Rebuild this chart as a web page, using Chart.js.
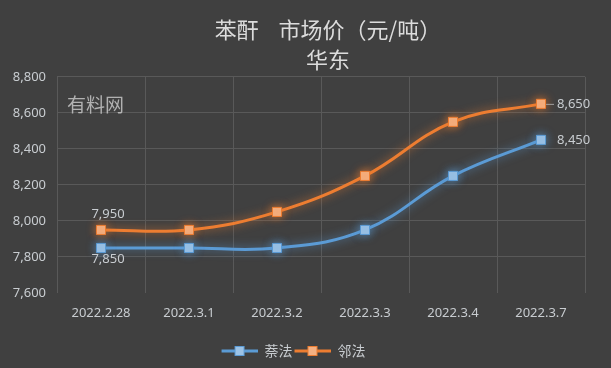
<!DOCTYPE html>
<html>
<head>
<meta charset="utf-8">
<script src="https://cdn.jsdelivr.net/npm/chart.js@4"></script>
<style>
html,body{margin:0;padding:0;background:#404040;}
#wrap{width:611px;height:368px;position:relative;}
</style>
</head>
<body>
<div id="wrap"><canvas id="c" width="611" height="368"></canvas></div>
<script>
const categories = ['2022.2.28', '2022.3.1', '2022.3.2', '2022.3.3', '2022.3.4', '2022.3.7'];
const naphthaleneValues = [7850, 7850, 7850, 7950, 8250, 8450];
const oxyleneValues = [7950, 7950, 8050, 8250, 8550, 8650];
const seriesNames = ['萘法', '邻法'];
const yMin = 7600, yMax = 8800, yStep = 200;
const titleLines = ['苯酐    市场价（元/吨）', '华东'];
const watermarkText = '有料网';

const lineColors = ['#5b9bd5', '#ed7d31'];
const pointFills = ['#9dc3e6', '#f4b183'];
const glowColors = ['rgba(91,155,213,0.75)', 'rgba(237,125,49,0.75)'];
const textColor = '#c8ccd0';
const gridColor = '#595959';
const sansFont = "'Noto Sans', 'Noto Sans CJK SC', sans-serif";

function legendImage(i) {
  const c = document.createElement('canvas');
  c.width = 38; c.height = 12;
  const g = c.getContext('2d');
  g.strokeStyle = lineColors[i];
  g.lineWidth = 3;
  g.beginPath(); g.moveTo(2, 6); g.lineTo(38, 6); g.stroke();
  g.fillStyle = pointFills[i];
  g.fillRect(15.5, 1.5, 9, 9);
  g.strokeStyle = lineColors[i];
  g.lineWidth = 1;
  g.strokeRect(15.5, 1.5, 9, 9);
  return c;
}
const legendImgs = [legendImage(0), legendImage(1)];

const glowPlugin = {
  id: 'glow',
  beforeDatasetDraw(chart, args) {
    const ctx = chart.ctx;
    ctx.save();
    ctx.shadowColor = glowColors[args.index];
    ctx.shadowBlur = 10;
  },
  afterDatasetDraw(chart) {
    chart.ctx.restore();
  }
};

const titleShift = {
  id: 'titleShift',
  afterLayout(chart) {
    const t = chart.titleBlock;
    const shift = 328 - (t.left + t.right) / 2;
    t.left += shift; t.right += shift;
  }
};

const watermark = {
  id: 'watermark',
  beforeDatasetsDraw(chart) {
    const ctx = chart.ctx;
    ctx.save();
    ctx.font = "19px 'Noto Sans CJK SC'";
    ctx.fillStyle = 'rgba(190,190,190,0.9)';
    ctx.textAlign = 'left';
    ctx.textBaseline = 'middle';
    ctx.fillText(watermarkText, chart.chartArea.left + 10, chart.chartArea.top + 28);
    ctx.restore();
  }
};

const endLabels = {
  id: 'endLabels',
  afterDatasetsDraw(chart) {
    const ctx = chart.ctx;
    ctx.save();
    ctx.font = '13px ' + sansFont;
    ctx.fillStyle = textColor;
    ctx.textBaseline = 'middle';
    chart.data.datasets.forEach((ds, di) => {
      const meta = chart.getDatasetMeta(di);
      const first = meta.data[0];
      const last = meta.data[meta.data.length - 1];
      const fv = ds.data[0].toLocaleString('en-US');
      const lv = ds.data[ds.data.length - 1].toLocaleString('en-US');
      ctx.textAlign = 'center';
      if (di === 1) {
        ctx.fillText(fv, first.x + 7, first.y - 16);
      } else {
        ctx.fillText(fv, first.x + 7, first.y + 11);
      }
      ctx.textAlign = 'left';
      ctx.fillText(lv, last.x + 16, last.y);
      if (di === 1) {
        ctx.strokeStyle = '#a0a0a0';
        ctx.lineWidth = 1;
        ctx.beginPath();
        ctx.moveTo(last.x + 5, last.y + 0.5);
        ctx.lineTo(last.x + 13, last.y + 0.5);
        ctx.stroke();
      }
    });
    ctx.restore();
  }
};

new Chart(document.getElementById('c'), {
  type: 'line',
  data: {
    labels: categories,
    datasets: [naphthaleneValues, oxyleneValues].map((vals, i) => ({
      label: seriesNames[i],
      data: vals,
      borderColor: lineColors[i],
      backgroundColor: pointFills[i],
      borderWidth: 3,
      tension: 0.4,
      pointStyle: 'rect',
      pointRadius: 6.4,
      pointBorderWidth: 1,
      pointBorderColor: lineColors[i],
      pointBackgroundColor: pointFills[i],
      fill: false
    }))
  },
  options: {
    responsive: false,
    animation: false,
    devicePixelRatio: 1,
    layout: { padding: { left: 0, right: 26, top: 0, bottom: 0 } },
    plugins: {
      title: {
        display: true,
        text: titleLines,
        color: '#dcdcdc',
        font: { family: "'Noto Sans CJK SC'", size: 22, weight: 'normal', lineHeight: 1.36 },
        padding: { top: 14.5, bottom: 2.5 }
      },
      legend: {
        position: 'bottom',
        labels: {
          usePointStyle: true,
          pointStyleWidth: 38,
          padding: 0,
          color: textColor,
          font: { family: "'Noto Sans CJK SC'", size: 14 },
          generateLabels(chart) {
            return chart.data.datasets.map((ds, i) => ({
              text: ds.label,
              pointStyle: legendImgs[i],
              fillStyle: pointFills[i],
              strokeStyle: lineColors[i],
              fontColor: textColor,
              lineWidth: 0,
              hidden: false,
              datasetIndex: i
            }));
          }
        }
      },
      tooltip: { enabled: false }
    },
    scales: {
      x: {
        offset: true,
        grid: { color: gridColor, offset: true, drawTicks: false },
        border: { display: false },
        ticks: { color: textColor, font: { family: sansFont, size: 13 }, padding: 12, maxRotation: 0 },
        afterFit(s) { s.height = 51; }
      },
      y: {
        min: yMin, max: yMax,
        grid: {
          color: (c) => (c.tick && c.tick.value === yMin) ? 'rgba(0,0,0,0)' : gridColor,
          drawTicks: false
        },
        border: { display: false },
        ticks: {
          stepSize: yStep,
          color: textColor,
          font: { family: sansFont, size: 13 },
          padding: 11,
          callback: (v) => v.toLocaleString('en-US')
        },
        afterFit(s) { s.width = 57; }
      }
    }
  },
  plugins: [glowPlugin, titleShift, watermark, endLabels]
});
</script>
</body>
</html>
